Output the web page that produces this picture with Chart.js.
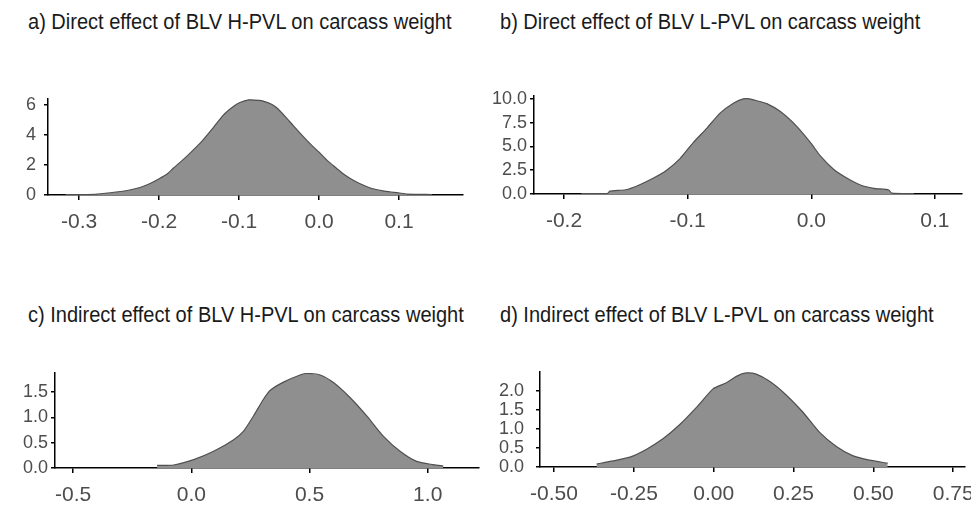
<!DOCTYPE html>
<html>
<head>
<meta charset="utf-8">
<script src="https://cdn.jsdelivr.net/npm/chart.js@4.4.0/dist/chart.umd.min.js"></script>
<style>
  body { margin: 0; background: #fff; width: 971px; height: 506px; position: relative; overflow: hidden; }
  .title { position: absolute; font-family: "Liberation Sans", Arial, sans-serif; font-size: 22px; line-height: 1;
           color: #1a1a1a; white-space: nowrap; transform: scaleX(0.91); transform-origin: 0 0; }
  canvas { position: absolute; }
</style>
</head>
<body>
<div class="title" style="left:28px;top:11px">a) Direct effect of BLV H-PVL on carcass weight</div>
<div class="title" style="left:500px;top:11px">b) Direct effect of BLV L-PVL on carcass weight</div>
<div class="title" style="left:28px;top:304px">c) Indirect effect of BLV H-PVL on carcass weight</div>
<div class="title" style="left:500px;top:304px">d) Indirect effect of BLV L-PVL on carcass weight</div>
<canvas id="pa"></canvas>
<canvas id="pb"></canvas>
<canvas id="pc"></canvas>
<canvas id="pd"></canvas>
<script>
// a) direct effect, H-PVL
var aX = [-0.317, -0.28, -0.261, -0.24, -0.224, -0.21, -0.2, -0.19, -0.182, -0.17, -0.161, -0.147, -0.132, -0.12,
          -0.108, -0.099, -0.088, -0.075, -0.07, -0.06, -0.053, -0.042, -0.032, -0.02, -0.011, 0.0, 0.01, 0.018,
          0.028, 0.039, 0.05, 0.06, 0.07, 0.08, 0.09, 0.099, 0.11, 0.141];
var aDensity = [0.03, 0.05, 0.15, 0.3, 0.5, 0.8, 1.08, 1.4, 1.8, 2.35, 2.8, 3.55, 4.5, 5.3,
                5.85, 6.15, 6.33, 6.3, 6.25, 6.05, 5.8, 5.2, 4.6, 3.9, 3.4, 2.85, 2.3, 1.95,
                1.5, 1.1, 0.78, 0.55, 0.38, 0.27, 0.2, 0.15, 0.06, 0.03];
var aXTicks = [-0.3, -0.2, -0.1, 0.0, 0.1];
var aXLabels = ["-0.3", "-0.2", "-0.1", "0.0", "0.1"];
var aYTicks = [0, 2, 4, 6];
var aYLabels = ["0", "2", "4", "6"];

// b) direct effect, L-PVL
var bX = [-0.186, -0.165, -0.163, -0.15, -0.141, -0.128, -0.117, -0.106, -0.0955, -0.0846, -0.0738, -0.063,
          -0.055, -0.05, -0.044, -0.036, -0.025, -0.0116, 0.0, 0.0073, 0.018, 0.029, 0.0397, 0.0505, 0.0627,
          0.065, 0.083];
var bDensity = [0.05, 0.05, 0.3, 0.45, 0.84, 1.65, 2.5, 3.75, 5.4, 6.9, 8.5, 9.54,
                10.0, 10.0, 9.8, 9.5, 8.67, 7.09, 5.3, 4.0, 2.6, 1.65, 0.95, 0.6, 0.42,
                0.1, 0.05];
var bXTicks = [-0.2, -0.1, 0.0, 0.1];
var bXLabels = ["-0.2", "-0.1", "0.0", "0.1"];
var bYTicks = [0, 2.5, 5, 7.5, 10];
var bYLabels = ["0.0", "2.5", "5.0", "7.5", "10.0"];

// c) indirect effect, H-PVL
var cX = [-0.145, -0.075, 0.01, 0.094, 0.179, 0.221, 0.263, 0.305, 0.334, 0.39, 0.46, 0.489, 0.545, 0.601,
          0.672, 0.742, 0.812, 0.883, 0.953, 1.024, 1.066];
var cDensity = [0.05, 0.06, 0.165, 0.33, 0.56, 0.73, 1.03, 1.36, 1.54, 1.7, 1.84, 1.87, 1.84, 1.69,
                1.39, 1.03, 0.63, 0.33, 0.13, 0.066, 0.04];
var cXTicks = [-0.5, 0.0, 0.5, 1.0];
var cXLabels = ["-0.5", "0.0", "0.5", "1.0"];
var cYTicks = [0, 0.5, 1, 1.5];
var cYLabels = ["0.0", "0.5", "1.0", "1.5"];

// d) indirect effect, L-PVL
var dX = [-0.367, -0.315, -0.2625, -0.21, -0.158, -0.106, -0.054, -0.002, 0.04, 0.071, 0.102, 0.133,
          0.175, 0.227, 0.279, 0.331, 0.383, 0.435, 0.4875, 0.545];
var dDensity = [0.08, 0.16, 0.26, 0.47, 0.75, 1.12, 1.57, 2.06, 2.22, 2.39, 2.48, 2.45,
                2.26, 1.9, 1.45, 0.92, 0.55, 0.3, 0.18, 0.1];
var dXTicks = [-0.5, -0.25, 0.0, 0.25, 0.5, 0.75];
var dXLabels = ["-0.50", "-0.25", "0.00", "0.25", "0.50", "0.75"];
var dYTicks = [0, 0.5, 1, 1.5, 2];
var dYLabels = ["0.0", "0.5", "1.0", "1.5", "2.0"];

var LEFT = 48, TOP = 16, RIGHT = 20, BOTTOM = 45;

function densityPanel(id, area, xs, ys, xTicks, xLabels, yTicks, yLabels, xMin, xMax, yMax, yPad) {
  var cv = document.getElementById(id);
  cv.width = area.right - area.left + LEFT + RIGHT;
  cv.height = area.bottom - area.top + TOP + BOTTOM;
  cv.style.left = (area.left - LEFT) + "px";
  cv.style.top = (area.top - TOP) + "px";
  var pts = xs.map(function (x, i) { return { x: x, y: ys[i] }; });
  return new Chart(cv.getContext("2d"), {
    type: "line",
    data: {
      datasets: [{
        data: pts,
        borderColor: "#505050",
        borderWidth: 1.2,
        backgroundColor: "#8f8f8f",
        fill: "origin",
        pointRadius: 0,
        tension: 0.2
      }]
    },
    options: {
      responsive: false,
      animation: false,
      devicePixelRatio: 1,
      events: [],
      layout: { padding: { left: 0, top: TOP, right: RIGHT, bottom: 0 } },
      plugins: { legend: { display: false }, tooltip: { enabled: false } },
      scales: {
        x: {
          type: "linear",
          min: xMin,
          max: xMax,
          afterBuildTicks: function (s) { s.ticks = xTicks.map(function (v) { return { value: v }; }); },
          afterFit: function (s) { s.height = BOTTOM; },
          grid: { drawOnChartArea: false, drawTicks: true, tickLength: 5, color: "#000", lineWidth: 1.5 },
          border: { display: true, color: "#000", width: 1.5 },
          ticks: {
            autoSkip: false, maxRotation: 0, padding: 10, color: "#4d4d4d",
            font: { family: "'Liberation Sans', Arial", size: 21 },
            callback: function (v, i) { return xLabels[i]; }
          }
        },
        y: {
          min: 0,
          max: yMax,
          afterBuildTicks: function (s) { s.ticks = yTicks.map(function (v) { return { value: v }; }); },
          afterFit: function (s) { s.width = LEFT; },
          grid: { drawOnChartArea: false, drawTicks: true, tickLength: 4, color: "#000", lineWidth: 1.5 },
          border: { display: true, color: "#000", width: 1.5 },
          ticks: {
            autoSkip: false, padding: yPad, color: "#4d4d4d",
            font: { family: "'Liberation Sans', Arial", size: 18 },
            callback: function (v, i) { return yLabels[i]; }
          }
        }
      }
    }
  });
}

densityPanel("pa", { left: 48, right: 463, top: 96, bottom: 195 }, aX, aDensity, aXTicks, aXLabels,
             aYTicks, aYLabels, -0.339, 0.18, 6.4, 8);
densityPanel("pb", { left: 534, right: 962, top: 96, bottom: 194 }, bX, bDensity, bXTicks, bXLabels,
             bYTicks, bYLabels, -0.2243, 0.1219, 10.3, 3);
densityPanel("pc", { left: 55, right: 479, top: 373, bottom: 468 }, cX, cDensity, cXTicks, cXLabels,
             cYTicks, cYLabels, -0.577, 1.217, 1.88, 3);
densityPanel("pd", { left: 540, right: 965, top: 365, bottom: 467 }, dX, dDensity, dXTicks, dXLabels,
             dYTicks, dYLabels, -0.544, 0.787, 2.51, 12);
</script>
</body>
</html>
